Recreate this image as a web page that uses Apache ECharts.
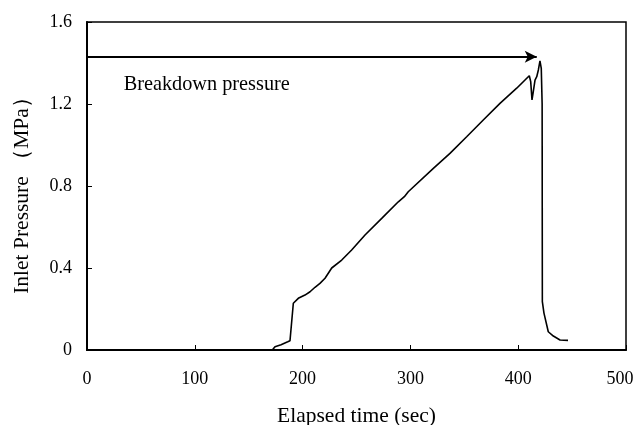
<!DOCTYPE html>
<html><head><meta charset="utf-8">
<script src="https://cdn.jsdelivr.net/npm/echarts@6/dist/echarts.min.js"></script>
<style>html,body{margin:0;padding:0;background:#fff}#c{width:636px;height:425px}</style>
</head><body><div id="c"></div>
<script>
var timeSec = [0,171.9,174.4,180,186.2,188.3,191.4,196,202.2,206.9,211.5,216.1,220.8,227,236.3,245.5,257.9,273.4,288.8,294.4,298,321.3,336.7,352.2,367.6,383.1,398.6,410.3,411.6,412.8,414,415.6,417.2,418.7,420.2,421.4,422.2,422.4,423.9,427.9,432.6,438.8,446.2];
var pressure = [0,0,0.016,0.026,0.04,0.045,0.228,0.252,0.268,0.284,0.306,0.325,0.35,0.4,0.439,0.488,0.561,0.642,0.723,0.748,0.772,0.886,0.959,1.04,1.122,1.203,1.277,1.338,1.309,1.22,1.26,1.317,1.333,1.366,1.41,1.374,1.2,0.236,0.18,0.089,0.068,0.049,0.047];
var xTicks = [0,100,200,300,400,500];
var yTicks = [0,0.4,0.8,1.2,1.6];
var breakdownLevel = 1.43, arrowEnd = 417.2;
var annotText = 'Breakdown pressure', annotX = 34, annotY = 1.292;

var FONT = '"Liberation Serif","Times New Roman",serif';
var data = timeSec.map(function(t,i){return [t,pressure[i]];});
var xMax = xTicks[xTicks.length-1];
var chart = echarts.init(document.getElementById('c'));
chart.setOption({
  animation:false,
  backgroundColor:'#fff',
  grid:{left:87,right:10,top:22,bottom:75,show:true,borderColor:'#000',borderWidth:1.5,backgroundColor:'transparent',
    containLabel:false,outerBoundsMode:'none'},
  xAxis:{type:'value',min:xTicks[0],max:xMax,interval:100,
    name:'Elapsed time (sec)',nameLocation:'middle',nameGap:55,
    nameTextStyle:{fontFamily:FONT,fontSize:21.5,color:'#000'},
    axisLine:{show:true,onZero:false,lineStyle:{color:'#000',width:2}},
    axisTick:{show:true,inside:true,length:5,lineStyle:{color:'#000',width:1}},
    axisLabel:{margin:20,fontFamily:FONT,fontSize:18,color:'#000',
      formatter:function(v){return v===xMax?'{m|'+v+'}':String(v);},
      rich:{m:{fontFamily:FONT,fontSize:18,color:'#000',padding:[0,12,0,0]}}},
    splitLine:{show:false}},
  yAxis:{type:'value',min:yTicks[0],max:yTicks[yTicks.length-1],interval:0.4,
    name:'Inlet Pressure （MPa）',nameLocation:'middle',nameGap:54,
    nameTextStyle:{fontFamily:FONT,fontSize:21.5,color:'#000',padding:[0,8,0,0]},
    axisLine:{show:true,lineStyle:{color:'#000',width:2}},
    axisTick:{show:true,inside:true,length:5,lineStyle:{color:'#000',width:1}},
    axisLabel:{margin:15,fontFamily:FONT,fontSize:18,color:'#000',
      formatter:function(v){return v===0?'0':v.toFixed(1);}},
    splitLine:{show:false}},
  series:[{
    type:'line',data:data,showSymbol:false,symbol:'none',
    lineStyle:{color:'#000',width:1.6},
    markLine:{silent:true,symbol:['none','arrow'],symbolSize:[9,12],
      lineStyle:{color:'#000',width:2,type:'solid'},label:{show:false},
      data:[[{coord:[0,breakdownLevel]},{coord:[arrowEnd,breakdownLevel]}]]},
    markPoint:{silent:true,symbol:'circle',symbolSize:0,
      label:{show:true,position:'right',distance:0,formatter:annotText,fontFamily:FONT,fontSize:20.3,color:'#000'},
      data:[{coord:[annotX,annotY]}]}
  }]
});
</script></body></html>
